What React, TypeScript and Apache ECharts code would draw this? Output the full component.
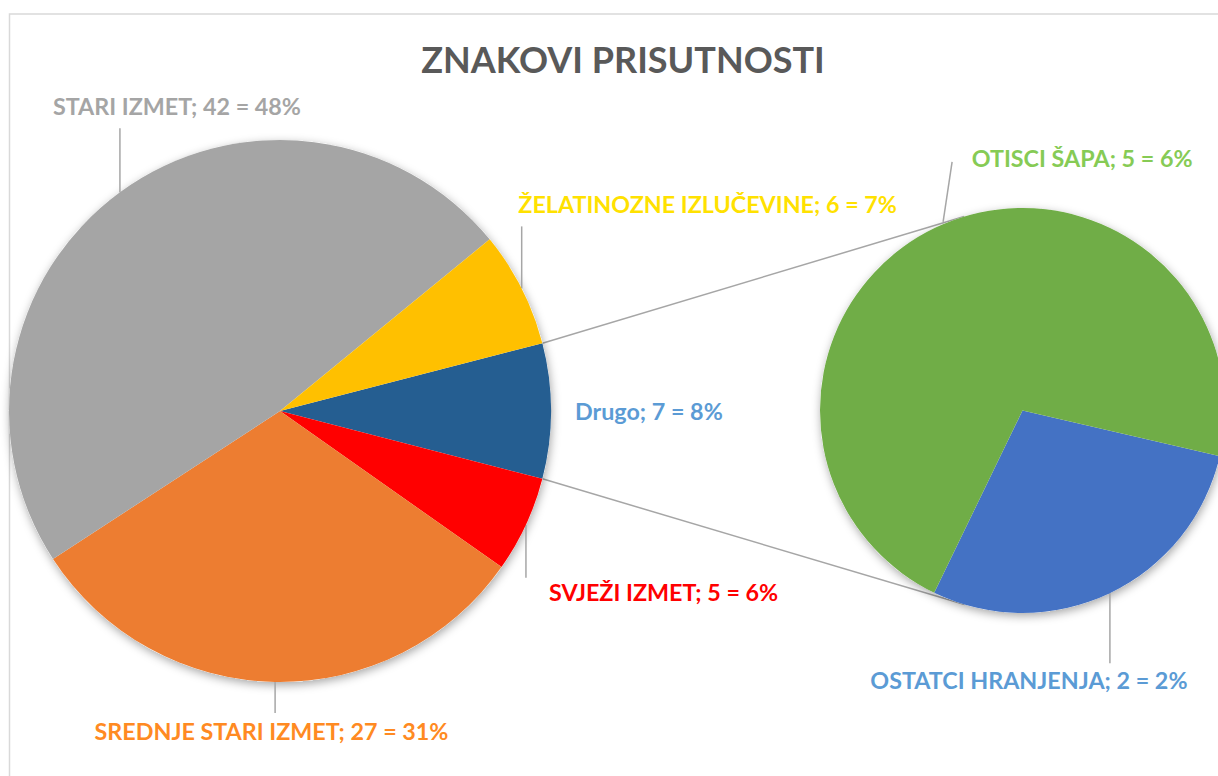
import { useEffect, useRef } from "react";
import * as echarts from "echarts";

const titleText = "ZNAKOVI PRISUTNOSTI";
const mainCategories = ["Drugo", "SVJEŽI IZMET", "SREDNJE STARI IZMET", "STARI IZMET", "ŽELATINOZNE IZLUČEVINE"];
const mainValues = [7, 5, 27, 42, 6];
const subCategories = ["OSTATCI HRANJENJA", "OTISCI ŠAPA"];
const subValues = [2, 5];

const mainColors = ["#255E91", "#FF0000", "#ED7D31", "#A5A5A5", "#FFC000"];
const mainLabelColors = ["#5B9BD5", "#FF0000", "#FF8A22", "#A5A5A5", "#FFE100"];
const subColors = ["#4472C4", "#70AD47"];
const subLabelColors = ["#5B9BD5", "#86CB55"];

// layout
const MAIN_C = [280, 411];
const MAIN_R = 271;
const SUB_C = [1022.5, 410.5];
const SUB_R = 202.5;
const SUB_START = -13;
const FONT = "Lato";
const LABEL_SIZE = 23.3;

// label offsets relative to slice edge point (dx,dy = label anchor; lx0,ly0 -> lx,ly = leader line)
const mainLabelPos = [
  { dx: 24, dy: 0, align: "left", lx0: 0, ly0: 0, lx: 0, ly: 0 },
  { dx: 23, dy: 67, align: "left", lx0: 0, ly0: 0, lx: 0, ly: 53 },
  { dx: -3.6, dy: 49.5, align: "center", lx0: 0, ly0: 0, lx: 0, ly: 31 },
  { dx: 57, dy: -86, align: "center", lx0: 0, ly0: 0, lx: 0, ly: -64 },
  { dx: -3.4, dy: -84, align: "left", lx0: 0, ly0: 0, lx: 0, ly: -62 },
];
const subLabelPos = [
  { dx: -81, dy: 87, align: "center", lx0: 0, ly0: 0, lx: 0, ly: 70 },
  { dx: 36.6, dy: -70, align: "left", lx0: 8, ly0: -6, lx: 17, ly: -66 },
];

const total = mainValues.reduce((a, b) => a + b, 0);
const MAIN_START = (mainValues[0] / total) * 180;

function midAngles(values: number[], start: number) {
  const s = values.reduce((a, b) => a + b, 0);
  let a = start;
  return values.map((v) => {
    const span = (v / s) * 360;
    const mid = a - span / 2;
    a -= span;
    return mid;
  });
}

function edgePoint(c: number[], r: number, deg: number) {
  const rad = (deg * Math.PI) / 180;
  return [c[0] + r * Math.cos(rad), c[1] - r * Math.sin(rad)];
}

function tangentPoint(p: number[], c: number[], r: number, sign: number) {
  const vx = c[0] - p[0];
  const vy = c[1] - p[1];
  const d = Math.hypot(vx, vy);
  const base = Math.atan2(vy, vx);
  const off = Math.asin(r / d);
  const ang = base + sign * off;
  const len = Math.sqrt(d * d - r * r);
  return [p[0] + len * Math.cos(ang), p[1] + len * Math.sin(ang)];
}

const fmt = (name: string, value: number) => `${name}; ${value} = ${Math.round((value / total) * 100)}%`;

export default function App() {
  const ref = useRef<HTMLDivElement>(null);
  useEffect(() => {
    if (!ref.current) return;
    const chart = echarts.init(ref.current, undefined, { renderer: "svg" });
    const mainMids = midAngles(mainValues, MAIN_START);
    const subMids = midAngles(subValues, SUB_START);

    const makeLayout = (mids: number[], c: number[], r: number, pos: any[]) => (params: any) => {
      const i = params.dataIndex;
      const e = edgePoint(c, r, mids[i]);
      const p = pos[i];
      return {
        x: e[0] + p.dx,
        y: e[1] + p.dy,
        align: p.align,
        verticalAlign: "middle",
        labelLinePoints: [
          [e[0] + p.lx0, e[1] + p.ly0],
          [e[0] + p.lx, e[1] + p.ly],
        ],
      };
    };

    const cornerTop = edgePoint(MAIN_C, MAIN_R, MAIN_START);
    const cornerBot = edgePoint(MAIN_C, MAIN_R, -MAIN_START);
    const tTop = tangentPoint(cornerTop, SUB_C, SUB_R, -1);
    const tBot = tangentPoint(cornerBot, SUB_C, SUB_R, 1);

    const labelStyle = (color: string) => ({
      show: true,
      position: "outside",
      color,
      fontFamily: FONT,
      fontWeight: "bold",
      fontSize: LABEL_SIZE,
    });

    const shadowStyle = {
      color: "#ffffff",
      shadowBlur: 10,
      shadowColor: "rgba(0,0,0,0.35)",
      shadowOffsetX: 1,
      shadowOffsetY: 3,
    };

    chart.setOption({
      animation: false,
      backgroundColor: "#ffffff",
      title: {
        text: titleText,
        left: 618,
        textAlign: "center",
        top: 36,
        textStyle: { color: "#595959", fontFamily: FONT, fontWeight: "bold", fontSize: 36 },
      },
      graphic: [
        {
          type: "rect",
          z: 0,
          shape: { x: 9.5, y: 14, width: 1240, height: 800 },
          style: { fill: "none", stroke: "#D9D9D9", lineWidth: 1.5 },
        },
        {
          type: "line",
          z: 0,
          shape: { x1: cornerTop[0], y1: cornerTop[1], x2: tTop[0], y2: tTop[1] },
          style: { stroke: "#A6A6A6", lineWidth: 1.5 },
        },
        {
          type: "line",
          z: 0,
          shape: { x1: cornerBot[0], y1: cornerBot[1], x2: tBot[0], y2: tBot[1] },
          style: { stroke: "#A6A6A6", lineWidth: 1.5 },
        },
      ],
      series: [
        {
          type: "pie",
          silent: true,
          z: 1,
          center: MAIN_C,
          radius: MAIN_R,
          label: { show: false },
          labelLine: { show: false },
          itemStyle: shadowStyle,
          data: [{ value: 1 }],
        },
        {
          type: "pie",
          silent: true,
          z: 1,
          center: SUB_C,
          radius: SUB_R,
          label: { show: false },
          labelLine: { show: false },
          itemStyle: shadowStyle,
          data: [{ value: 1 }],
        },
        {
          type: "pie",
          z: 2,
          center: MAIN_C,
          radius: MAIN_R,
          startAngle: MAIN_START,
          clockwise: true,
          avoidLabelOverlap: false,
          labelLine: { show: true, length: 10, length2: 10, lineStyle: { color: "#A6A6A6", width: 1.5 } },
          labelLayout: makeLayout(mainMids, MAIN_C, MAIN_R, mainLabelPos),
          data: mainCategories.map((name, i) => ({
            name,
            value: mainValues[i],
            itemStyle: { color: mainColors[i] },
            label: { ...labelStyle(mainLabelColors[i]), formatter: fmt(name, mainValues[i]) },
            labelLine: { show: i !== 0 },
          })),
        },
        {
          type: "pie",
          z: 2,
          center: SUB_C,
          radius: SUB_R,
          startAngle: SUB_START,
          clockwise: true,
          avoidLabelOverlap: false,
          labelLine: { show: true, length: 10, length2: 10, lineStyle: { color: "#A6A6A6", width: 1.5 } },
          labelLayout: makeLayout(subMids, SUB_C, SUB_R, subLabelPos),
          data: subCategories.map((name, i) => ({
            name,
            value: subValues[i],
            itemStyle: { color: subColors[i] },
            label: { ...labelStyle(subLabelColors[i]), formatter: fmt(name, subValues[i]) },
          })),
        },
      ],
    });
    return () => chart.dispose();
  }, []);
  return <div ref={ref} style={{ position: "fixed", left: 0, top: 0, width: 1218, height: 776 }} />;
}
